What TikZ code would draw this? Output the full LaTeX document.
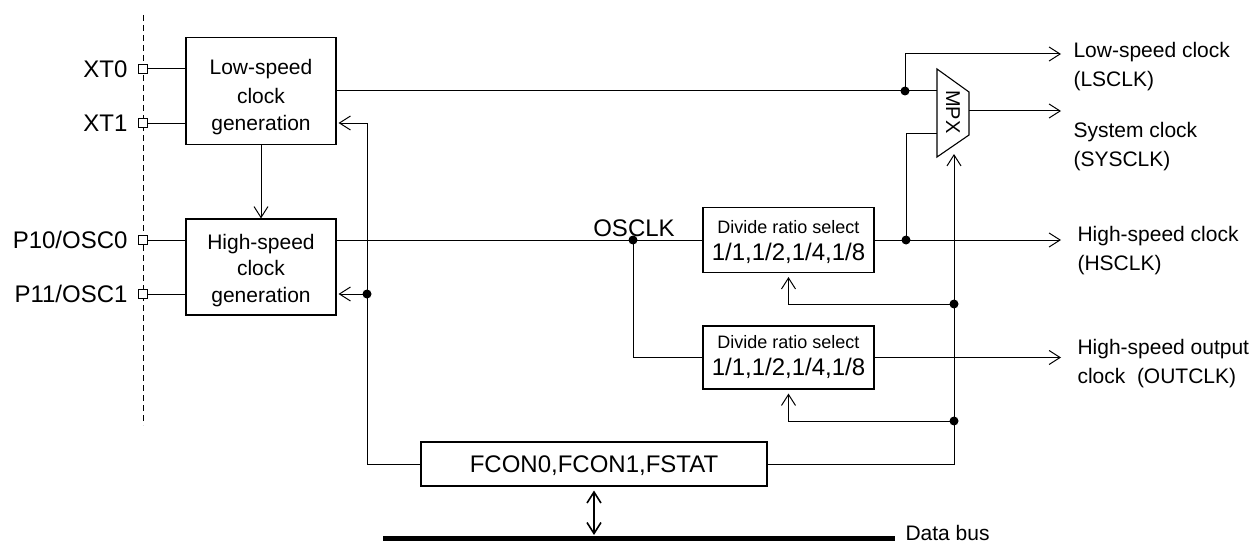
\documentclass[tikz,border=0pt]{standalone}
\usepackage{fontspec}
\setmainfont{Liberation Sans}
\usetikzlibrary{arrows.meta}
\begin{document}
\begin{tikzpicture}[x=1pt,y=-1pt,line width=1pt,
  boxshape/.style={draw,line width=1.1pt,inner sep=0pt},
  pad/.style={draw,fill=white,line width=0.9pt,minimum size=9pt,inner sep=0pt},
  arr/.style={-{Straight Barb[length=11pt,width=14pt]}},
  jdot/.style={circle,fill,inner sep=0pt,minimum size=9pt},
  txt/.style={inner sep=0pt},
  big/.style={font=\fontsize{24}{28}\selectfont},
  mid/.style={font=\fontsize{21}{29}\selectfont},
  small/.style={font=\fontsize{18}{22}\selectfont}]
\useasboundingbox (0,0) rectangle (1254,543);

% dashed chip boundary
\coordinate (dashTop) at (143,15);
\coordinate (dashBot) at (143,425);
\draw[line width=0.9pt,dash pattern=on 6pt off 4pt] (dashTop) -- (dashBot);

% boxes
\node[boxshape,minimum width=150pt,minimum height=107pt] (low) at (261,91) {};
\node[boxshape,minimum width=150pt,minimum height=96pt] (high) at (261,267) {};
\node[boxshape,minimum width=171pt,minimum height=65pt] (div1) at (788.5,240) {};
\node[boxshape,minimum width=171pt,minimum height=63pt] (div2) at (788.5,357.5) {};
\node[boxshape,minimum width=346pt,minimum height=44pt] (fcon) at (594,464) {};

% box texts (base = baseline of last line)
\node[txt,font=\fontsize{21}{28}\selectfont,anchor=base,align=center] (lowt) at (261,131) {Low-speed\\clock\\generation};
\node[txt,font=\fontsize{21}{26.5}\selectfont,anchor=base,align=center] (hight) at (261,302) {High-speed\\clock\\generation};
\node[txt,small,anchor=base] (div1a) at (788.5,233.5) {Divide ratio select};
\node[txt,big,anchor=base] (div1b) at (788.5,260) {1/1,1/2,1/4,1/8};
\node[txt,small,anchor=base] (div2a) at (788.5,348.5) {Divide ratio select};
\node[txt,big,anchor=base] (div2b) at (788.5,375) {1/1,1/2,1/4,1/8};
\node[txt,big,anchor=base] (fcont) at (594,472) {FCON0,FCON1,FSTAT};

% pads and pin labels
\node[pad] (pXT0) at (143,69) {};
\node[pad] (pXT1) at (143,123) {};
\node[pad] (pP10) at (143,240) {};
\node[pad] (pP11) at (143,294) {};
\node[txt,big,anchor=base east] (lXT0) at (128,77.5) {XT0};
\node[txt,big,anchor=base east] (lXT1) at (128,131.5) {XT1};
\node[txt,big,anchor=base east] (lP10) at (128,248.5) {P10/OSC0};
\node[txt,big,anchor=base east] (lP11) at (128,302.5) {P11/OSC1};
\draw (pXT0.east) -- (pXT0 -| low.west);
\draw (pXT1.east) -- (pXT1 -| low.west);
\draw (pP10.east) -- (pP10 -| high.west);
\draw (pP11.east) -- (pP11 -| high.west);

% MPX
\coordinate (mA) at (937,69);
\coordinate (mB) at (969,92);
\coordinate (mC) at (969,135);
\coordinate (mD) at (937,157);
\draw[line width=1.1pt] (mA) -- (mB) -- (mC) -- (mD) -- cycle;
\node[txt,rotate=-90,font=\fontsize{20}{24}\selectfont] (mpxt) at (953,112) {MPX};
\coordinate (mIn1) at (937,91);
\coordinate (mIn2) at (937,133);
\coordinate (mOut) at (969,111);
\coordinate (mSel) at (954,154);

% outputs
\coordinate (oLS) at (1061,54);
\coordinate (oSYS) at (1061,111);
\coordinate (oHS) at (1061,240);
\coordinate (oOUT) at (1061,357.5);

% junctions
\node[jdot] (dLS) at (905,91) {};
\node[jdot] (dOS) at (633,240) {};
\node[jdot] (dHS) at (906,240) {};
\node[jdot] (dC1) at (954,304) {};
\node[jdot] (dC2) at (954,421) {};
\node[jdot] (dFB) at (367,294) {};
\coordinate (fbTop) at (367,123);

% low-speed path
\draw (low.east) -- (mIn1);
\draw[arr] (dLS.center) |- (oLS);
\draw[arr] (low.south) -- (high.north);

% high-speed path
\draw (pP10 -| high.east) -- (div1.west);
\node[txt,big,anchor=base] (osclk) at (634,236) {OSCLK};
\draw (dOS.center) |- (div2.west);
\draw[arr] (div1.east) -- (oHS);
\draw (dHS.center) |- (mIn2);
\draw[arr] (mOut) -- (oSYS);
\draw[arr] (div2.east) -- (oOUT);

% control lines
\draw (fcon.west) -| (fbTop);
\draw[arr,shorten >=2pt] (fbTop) -- (fbTop -| low.east);
\draw[arr,shorten >=2pt] (dFB.center) -- (dFB -| high.east);
\draw[arr] (fcon.east) -| (mSel);
\draw[arr,shorten >=4pt] (dC1.center) -| (div1.south);
\draw[arr,shorten >=4pt] (dC2.center) -| (div2.south);

% output labels (base = baseline of last line)
\node[txt,mid,anchor=base west,align=left] (tLS) at (1073,87) {Low-speed clock\\(LSCLK)};
\node[txt,mid,anchor=base west,align=left] (tSYS) at (1073,166) {System clock\\(SYSCLK)};
\node[txt,mid,anchor=base west,align=left] (tHS) at (1077,270) {High-speed clock\\(HSCLK)};
\node[txt,mid,anchor=base west,align=left] (tOUT) at (1077,383) {High-speed output\\clock\ \ (OUTCLK)};

% data bus
\coordinate (busL) at (383,538);
\coordinate (busR) at (895,538);
\draw[line width=5pt] (busL) -- (busR);
\node[txt,mid,anchor=base west] (tbus) at (905,540.5) {Data bus};
\draw[line width=1.6pt,{Straight Barb[length=11pt,width=14pt]}-{Straight Barb[length=11pt,width=14pt]},shorten <=4pt,shorten >=3pt] (fcon.south) -- (fcon.south |- busL);
\end{tikzpicture}
\end{document}
